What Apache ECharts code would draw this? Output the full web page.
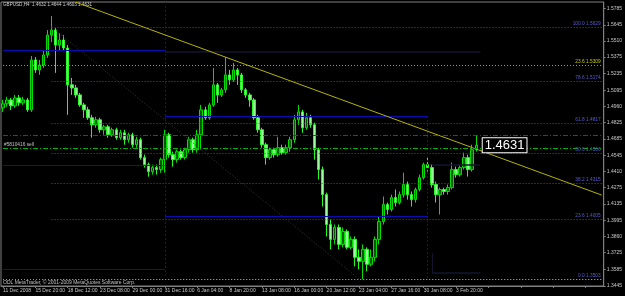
<!DOCTYPE html>
<html>
<head>
<meta charset="utf-8">
<script src="https://cdn.jsdelivr.net/npm/echarts/dist/echarts.min.js"></script>
<style>
html,body{margin:0;padding:0;background:#000;}
#chart{width:625px;height:296px;}
</style>
</head>
<body>
<div id="chart"></div>
<script>
// ---- Data (8-hour candles) ----
const timeLabels = ['11 Dec 2008','15 Dec 20:00','18 Dec 12:00','23 Dec 08:00','29 Dec 00:00','31 Dec 16:00','6 Jan 04:00','8 Jan 20:00','13 Jan 08:00','16 Jan 00:00','20 Jan 12:00','23 Jan 04:00','27 Jan 16:00','30 Jan 08:00','3 Feb 20:00'];
const slotCount = 149;

const opens = [1.4947,1.4981,1.5014,1.4964,1.5031,1.4989,1.5014,1.4930,1.5351,1.5267,
1.5309,1.5393,1.5561,1.5603,1.5477,1.5519,1.5452,1.5141,1.5115,1.5056,
1.4972,1.4930,1.4863,1.4804,1.4846,1.4762,1.4787,1.4720,1.4762,1.4695,
1.4737,1.4678,1.4720,1.4636,1.4678,1.4527,1.4468,1.4409,1.4443,1.4426,
1.4510,1.4720,1.4552,1.4510,1.4577,1.4527,1.4594,1.4678,1.4594,1.4720,
1.4930,1.4863,1.4972,1.5141,1.5056,1.5099,1.5225,1.5183,1.5267,1.5225,
1.5099,1.5056,1.5014,1.4863,1.4762,1.4636,1.4527,1.4594,1.4552,1.4611,
1.4569,1.4611,1.4678,1.4846,1.4913,1.4779,1.4863,1.4804,1.4594,1.4426,
1.4215,1.3963,1.3837,1.3938,1.3795,1.3904,1.3770,1.3837,1.3686,1.3652,
1.3753,1.3627,1.3686,1.3837,1.3988,1.4131,1.4089,1.4190,1.4148,1.4215,
1.4300,1.4215,1.4173,1.4258,1.4358,1.4468,1.4443,1.4300,1.4215,1.4258,
1.4241,1.4274,1.4426,1.4384,1.4443,1.4527,1.4426,1.4594];

const closes = [1.4981,1.5014,1.4964,1.5031,1.4989,1.5014,1.4930,1.5351,1.5267,1.5309,
1.5393,1.5561,1.5603,1.5477,1.5519,1.5452,1.5141,1.5115,1.5056,1.4972,
1.4930,1.4863,1.4804,1.4846,1.4762,1.4787,1.4720,1.4762,1.4695,1.4737,
1.4678,1.4720,1.4636,1.4678,1.4527,1.4468,1.4409,1.4443,1.4426,1.4510,
1.4720,1.4552,1.4510,1.4577,1.4527,1.4594,1.4678,1.4594,1.4720,1.4930,
1.4863,1.4972,1.5141,1.5056,1.5099,1.5225,1.5183,1.5267,1.5225,1.5099,
1.5056,1.5014,1.4863,1.4762,1.4636,1.4527,1.4594,1.4552,1.4611,1.4569,
1.4611,1.4678,1.4846,1.4913,1.4779,1.4863,1.4804,1.4594,1.4426,1.4215,
1.3963,1.3837,1.3938,1.3795,1.3904,1.3770,1.3837,1.3686,1.3652,1.3753,
1.3627,1.3686,1.3837,1.3988,1.4131,1.4089,1.4190,1.4148,1.4215,1.4300,
1.4215,1.4173,1.4258,1.4358,1.4468,1.4443,1.4300,1.4215,1.4258,1.4241,
1.4274,1.4426,1.4384,1.4443,1.4527,1.4426,1.4594,1.4631];

const lows = [1.4913,1.4956,1.4930,1.4947,1.4964,1.4972,1.4913,1.4913,1.5242,1.5225,
1.5284,1.5368,1.5502,1.5242,1.5435,1.5435,1.4888,1.5056,1.5031,1.4956,
1.4863,1.4846,1.4695,1.4779,1.4737,1.4720,1.4695,1.4703,1.4678,1.4678,
1.4636,1.4653,1.4611,1.4611,1.4510,1.4443,1.4367,1.4384,1.4384,1.4400,
1.4400,1.4527,1.4451,1.4485,1.4510,1.4510,1.4569,1.4569,1.4569,1.4594,
1.4846,1.4846,1.4956,1.4989,1.5040,1.5073,1.5141,1.5166,1.5141,1.5073,
1.5031,1.4956,1.4846,1.4737,1.4611,1.4468,1.4510,1.4527,1.4535,1.4552,
1.4552,1.4577,1.4653,1.4804,1.4737,1.4762,1.4779,1.4510,1.4342,1.4115,
1.3862,1.3753,1.3795,1.3753,1.3770,1.3753,1.3753,1.3610,1.3585,1.3503,
1.3568,1.3610,1.3652,1.3795,1.3963,1.4047,1.4072,1.4115,1.4131,1.4190,
1.4173,1.4115,1.4148,1.4241,1.4342,1.4409,1.4274,1.4148,1.4047,1.4215,
1.4215,1.4258,1.4358,1.4367,1.4426,1.4367,1.4409,1.4577];

const highs = [1.5014,1.5040,1.5031,1.5056,1.5056,1.5040,1.5031,1.5384,1.5376,1.5351,
1.5435,1.5603,1.5721,1.5620,1.5578,1.5561,1.5477,1.5199,1.5141,1.5073,
1.4989,1.4956,1.4888,1.4871,1.4863,1.4804,1.4804,1.4779,1.4779,1.4762,
1.4762,1.4737,1.4737,1.4703,1.4695,1.4552,1.4485,1.4468,1.4468,1.4527,
1.4762,1.4737,1.4577,1.4594,1.4594,1.4611,1.4703,1.4695,1.4762,1.4972,
1.4956,1.4989,1.5284,1.5157,1.5115,1.5376,1.5267,1.5326,1.5284,1.5242,
1.5115,1.5073,1.5031,1.4888,1.4779,1.4653,1.4611,1.4611,1.4703,1.4636,
1.4636,1.4703,1.4888,1.4972,1.4930,1.4905,1.4888,1.4821,1.4611,1.4451,
1.4232,1.4005,1.3963,1.3963,1.3938,1.3921,1.3862,1.3862,1.3753,1.3795,
1.3770,1.3753,1.3862,1.4030,1.4199,1.4148,1.4215,1.4258,1.4241,1.4400,
1.4325,1.4241,1.4274,1.4384,1.4485,1.4527,1.4468,1.4325,1.4274,1.4274,
1.4300,1.4485,1.4451,1.4468,1.4569,1.4552,1.4636,1.4712];

const yTickValues = [1.5785,1.5645,1.5510,1.5375,1.5235,1.5095,1.4960,1.4825,1.4685,1.4545,1.4410,1.4275,1.4135,1.3995,1.3860,1.3725,1.3585,1.3445];

const fibLevels = ['100.0','78.6','61.8','50.0','38.2','23.6','0.0'];
const fibPrices = [1.5629,1.5174,1.4817,1.4566,1.4315,1.4005,1.3503];
const fibStartIdx = 12, fibEndIdx = 88, lastIdx = 148;

const trendPoints = [[18, 1.5838], [148, 1.4211]];
const yellowLevelPrices = [1.5309, 1.3503];
const yellowLevelLabels = ['23.6 1.5309', ''];

const stopPrice = 1.4718;
const orderPrice = 1.4606;
const orderLabel = '#5810416 sell';
const lastPrice = 1.4631;
const headerText = 'GBPUSD,H4  1.4632 1.4644 1.4603 1.4631';
const footerText = 'ODL MetaTrader, \u00A9 2001-2009 MetaQuotes Software Corp.';

// drawn range segments [fromIdx, toIdx, price]
const blueSegments = [[0,40,1.5435],[0,40,1.4465],[0,40,1.3587],[40,105,1.4878],[40,105,1.4035]];
const darkSegments = [[40,118,1.5418],[106,118,1.4465],[106,118,1.3554]];
// vertical segments [idx, fromPrice, toPrice]
const blueVerticals = [[40,1.5840,1.3511],[105,1.4878,1.3511]];
const darkVerticals = [[106,1.3722,1.3554]];

// ---- Build ----
const categories = Array.from({length: slotCount}, (_, i) => String(i));
const candles = opens.map((o, i) => [o, closes[i], lows[i], highs[i]]);

const ml = [];
// fib levels
fibPrices.forEach((p, k) => {
  ml.push([{coord:[fibStartIdx, p], lineStyle:{color:'#4a4ab8', type:[1,2], width:1},
    label:{show:true, position:'insideEndTop', formatter: fibLevels[k] + ' ' + p.toFixed(4), color:'#5a5ad0', fontSize:4.8, distance:1}},
    {coord:[lastIdx, p]}]);
});
// yellow fib levels
yellowLevelPrices.forEach((p, k) => {
  ml.push([{coord:[0, p], lineStyle:{color:'#a8a800', type:[1,2], width:1},
    label:{show: !!yellowLevelLabels[k], position:'insideEndTop', formatter: yellowLevelLabels[k], color:'#c8c800', fontSize:4.8, distance:1}},
    {coord:[lastIdx, p]}]);
});
// fib diagonal
ml.push([{coord:[fibStartIdx, fibPrices[0]], lineStyle:{color:'#3a3a3a', type:[1,2], width:1}},
  {coord:[fibEndIdx, fibPrices[fibPrices.length-1]]}]);
// range boxes
blueSegments.forEach(s => ml.push([{coord:[s[0], s[2]], lineStyle:{color:'#0c0cb0', type:'solid', width:1}}, {coord:[s[1], s[2]]}]));
darkSegments.forEach(s => ml.push([{coord:[s[0], s[2]], lineStyle:{color:'#14142e', type:'solid', width:1.5}}, {coord:[s[1], s[2]]}]));
blueVerticals.forEach(s => ml.push([{coord:[s[0], s[1]], lineStyle:{color:'#0c0cb0', type:[2,2], width:1}}, {coord:[s[0], s[2]]}]));
darkVerticals.forEach(s => ml.push([{coord:[s[0], s[1]], lineStyle:{color:'#14142e', type:'solid', width:1}}, {coord:[s[0], s[2]]}]));
// trend line
ml.push([{coord: trendPoints[0], lineStyle:{color:'#b4b400', type:'solid', width:1}}, {coord: trendPoints[1]}]);
// order lines
ml.push([{coord:[0, stopPrice], lineStyle:{color:'#e00000', type:[5,2,1,2], width:1}}, {coord:[lastIdx, stopPrice]}]);
ml.push([{coord:[0, orderPrice], lineStyle:{color:'#00b400', type:[5,2,1,2], width:1},
  label:{show:true, position:'insideStartTop', formatter: orderLabel, color:'#c0c0c0', fontSize:4.8, distance:1}},
  {coord:[lastIdx, orderPrice]}]);
// current price on axis
ml.push({yAxis: lastPrice, lineStyle:{opacity:0, width:0},
  label:{show:true, position:'end', formatter: lastPrice.toFixed(4), color:'#000', backgroundColor:'#fff', fontSize:5, padding:[1,2], distance:3}});

const chart = echarts.init(document.getElementById('chart'), null, {renderer:'canvas'});
chart.setOption({
  backgroundColor:'#000',
  animation:false,
  grid:{left:1, right:20, top:2, bottom:10, show:true, borderColor:'#808080', borderWidth:1, backgroundColor:'#000'},
  graphic:[
    {type:'text', left:3, top:2, style:{text: headerText, fill:'#d0d0d0', font:'4.6px "Liberation Sans"'}},
    {type:'text', left:3, top:280.5, style:{text: footerText, fill:'#c0c0c0', font:'5px "Liberation Sans"'}}
  ],
  xAxis:{
    type:'category', data: categories, boundaryGap:true,
    axisLine:{lineStyle:{color:'#808080'}},
    axisTick:{show:true, interval:7, alignWithLabel:true, length:2, lineStyle:{color:'#808080'}},
    axisLabel:{interval:7, align:'left', margin:2, color:'#c8c8c8', fontSize:5, fontFamily:'Liberation Sans',
      formatter:(v, idx) => timeLabels[idx/8] || ''},
    splitLine:{show:false}
  },
  yAxis:{
    type:'value', position:'right', min:1.3444, max:1.5840, scale:true,
    axisLine:{show:true, lineStyle:{color:'#808080'}},
    axisTick:{show:true, length:2, customValues: yTickValues, lineStyle:{color:'#808080'}},
    axisLabel:{customValues: yTickValues, margin:3, color:'#c8c8c8', fontSize:5, fontFamily:'Liberation Sans',
      formatter: v => v.toFixed(4)},
    splitLine:{show:false}
  },
  series:[{
    type:'candlestick',
    data: candles,
    barWidth:3,
    clip:true,
    itemStyle:{color:'#005a00', borderColor:'#00e000', color0:'#9aff9a', borderColor0:'#20ff20', borderWidth:1},
    markLine:{symbol:['none','none'], silent:true, animation:false, label:{show:false}, data: ml},
    markPoint:{silent:true, animation:false, data:[{coord:[124, lastPrice], symbol:'rect', symbolSize:1,
      itemStyle:{color:'rgba(0,0,0,0)'},
      label:{show:true, position:'inside', formatter: lastPrice.toFixed(4), color:'#fff', fontSize:13, fontFamily:'Liberation Sans',
        backgroundColor:'#000', borderColor:'#fff', borderWidth:1, padding:[1,2,0,2]}}]}
  }]
});
</script>
</body>
</html>
